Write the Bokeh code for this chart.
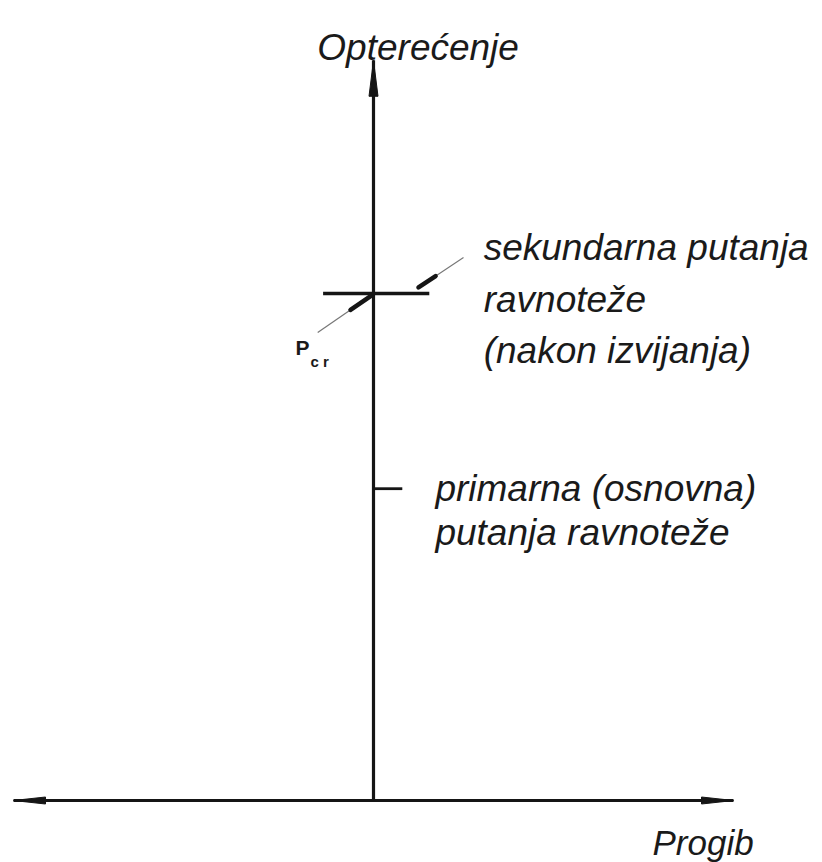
from bokeh.plotting import figure
from bokeh.models import Range1d
from bokeh.core.properties import value
from bokeh.embed import file_html
from bokeh.resources import INLINE

# Load-deflection diagram of a perfect column (bifurcation at P_cr).
# Deflection in relative units, load in units of P_cr.
deflection_axis = [-1.0, 1.0]          # ends of the "Progib" axis
load_axis = [0.0, 1.46]                # ends of the "Opterećenje" axis
P_cr = 1.0                             # critical (bifurcation) load
secondary_path = [-0.14, 0.155]        # post-buckling branch at P_cr
primary_mark_load = 0.615              # marker on the primary path
primary_mark = [0.0, 0.08]

# pointer leaders: (start deflection, start load, tip deflection, tip load)
pcr_pointer = [-0.155, 0.923, -0.008, 0.995]
secondary_pointer = [0.25, 1.071, 0.125, 1.012]

W, H = 822, 862
# pixel scale of the drawing
PX_X = 360.0   # pixels per deflection unit
PX_Y = 507.0   # pixels per load unit
X0, Y0 = 373.0, 800.0  # pixel position of the origin

p = figure(width=W, height=H, output_backend="svg", toolbar_location=None,
           min_border=0, x_axis_location=None, y_axis_location=None)
p.x_range = Range1d(-X0 / PX_X, (W - X0) / PX_X)
p.y_range = Range1d(-(H - Y0) / PX_Y, Y0 / PX_Y)
p.grid.visible = False
p.outline_line_color = None
p.background_fill_color = "white"
p.border_fill_color = "white"

INK = "#151515"


def head(tip_x, tip_y, dx, dy, length_px, half_px):
    """Narrow triangular arrow head pointing along (dx, dy) in pixel space."""
    n = (dx * dx + dy * dy) ** 0.5
    ux, uy = dx / n, dy / n
    bx, by = -ux * length_px, -uy * length_px
    nx, ny = -uy * half_px, ux * half_px
    xs = [tip_x, tip_x + (bx + nx) / PX_X, tip_x + (bx - nx) / PX_X]
    ys = [tip_y, tip_y + (by + ny) / PX_Y, tip_y + (by - ny) / PX_Y]
    return xs, ys


# axes
p.line(deflection_axis, [0, 0], line_color=INK, line_width=3)
p.line([0, 0], load_axis, line_color=INK, line_width=3.2)

hx, hy = [], []
for xs, ys in (head(deflection_axis[0], 0, -1, 0, 32, 3.5),
               head(deflection_axis[1], 0, 1, 0, 32, 3.5),
               head(0, load_axis[1], 0, 1, 36, 4.5)):
    hx.append(xs)
    hy.append(ys)
p.patches(hx, hy, fill_color=INK, line_color=INK, line_width=1)

# secondary (post-buckling) path at P_cr
p.line(secondary_path, [P_cr, P_cr], line_color=INK, line_width=3.4)
# small marker pointing at the primary path label
p.line(primary_mark, [primary_mark_load, primary_mark_load],
       line_color=INK, line_width=2.8)

# leader lines with thick tips
for sx, sy, tx, ty in (pcr_pointer, secondary_pointer):
    p.line([sx, tx], [sy, ty], line_color="#777777", line_width=1.2)
    f = 0.38
    p.line([tx + (sx - tx) * f, tx], [ty + (sy - ty) * f, ty],
           line_color=INK, line_width=4.5, line_cap="round")

FONT = value("Liberation Sans")


def label(x, y, txt, size="37px", style="italic", font=FONT, color="#1a1a1a"):
    p.text(x=[x], y=[y], text=[txt], text_font=font, text_font_size=size,
           text_font_style=style, text_color=color,
           text_align="left", text_baseline="alphabetic")


label(-0.156, 1.485, "Opterećenje")
label(0.306, 1.091, "sekundarna putanja")
label(0.306, 0.988, "ravnoteže")
label(0.306, 0.888, "(nakon izvijanja)")
label(0.172, 0.615, "primarna (osnovna)")
label(0.172, 0.529, "putanja ravnoteže")
label(0.775, -0.083, "Progib", size="35px")
label(-0.217, 0.893, "P", size="21px", style="bold")
label(-0.175, 0.866, "c r", size="15px", style="bold")

open("out.html", "w").write(file_html(p, INLINE))
